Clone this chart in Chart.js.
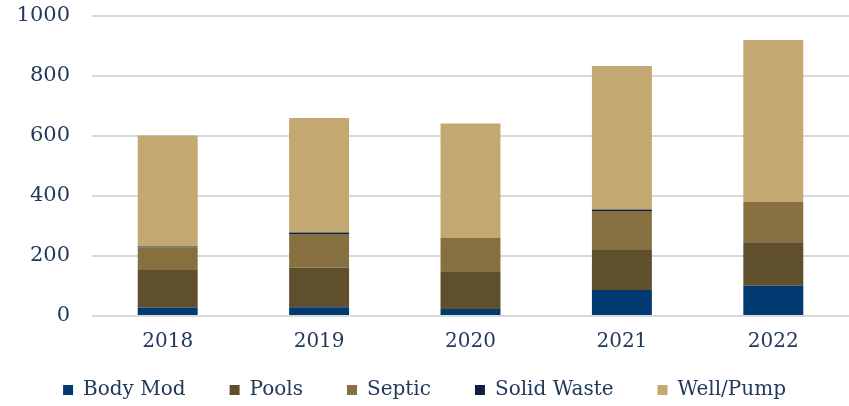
<!DOCTYPE html>
<html>
<head>
<meta charset="utf-8">
<script src="https://cdn.jsdelivr.net/npm/chart.js@4.4.0/dist/chart.umd.min.js"></script>
<style>
  html, body { margin: 0; padding: 0; background: #fff; }
  #chart { display: block; }
</style>
</head>
<body>
<canvas id="chart" width="849" height="406"></canvas>
<script>
// categories and series values
const years = ['2018', '2019', '2020', '2021', '2022'];
const bodyMod = [28, 29, 23, 87, 101];
const pools = [125, 132, 126, 133, 145];
const septic = [75, 112, 111, 130, 134];
const solidWaste = [4, 5, 0, 5, 0];
const wellPump = [370, 382, 382, 478, 540];
const yTicks = [0, 200, 400, 600, 800, 1000];

const textColor = '#22395c';
const serif = "'DejaVu Serif', 'Liberation Serif', serif";

function series(label, data, color) {
  return {
    label: label,
    data: data,
    backgroundColor: color,
    borderWidth: 0,
    categoryPercentage: 1,
    barPercentage: 0.396
  };
}

// legend padding also adds vertical room; keep the legend box short
const legendHeight = {
  id: 'legendHeight',
  beforeLayout(chart) {
    const lg = chart.legend;
    if (lg && !lg._short) {
      const fit = lg.fit.bind(lg);
      lg.fit = function () { fit(); this.height = 70; };
      lg._short = true;
    }
  }
};

new Chart(document.getElementById('chart'), {
  type: 'bar',
  data: {
    labels: years,
    datasets: [
      series('Body Mod', bodyMod, '#003a70'),
      series('Pools', pools, '#5f4f2d'),
      series('Septic', septic, '#86703f'),
      series('Solid Waste', solidWaste, '#0c2340'),
      series('Well/Pump', wellPump, '#c3a872')
    ]
  },
  plugins: [legendHeight],
  options: {
    responsive: false,
    devicePixelRatio: 1,
    animation: false,
    layout: { padding: { top: 16, right: 0, left: 0, bottom: 0 } },
    plugins: {
      tooltip: { enabled: false },
      legend: {
        position: 'bottom',
        labels: {
          color: textColor,
          font: { family: serif, size: 20 },
          boxWidth: 10,
          boxHeight: 10,
          padding: 44
        }
      }
    },
    scales: {
      x: {
        stacked: true,
        grid: { display: false, drawTicks: false },
        border: { display: false },
        ticks: { color: textColor, font: { family: serif, size: 20 }, padding: 14 },
        afterFit: (scale) => {
          scale.height = 20;
          // labels sit below the short axis box, don't clip them
          scale._computeLabelArea = () => undefined;
        }
      },
      y: {
        stacked: true,
        min: 0,
        max: 1000,
        afterBuildTicks: (scale) => { scale.ticks = yTicks.map(v => ({ value: v })); },
        grid: { color: '#d9d9d9', lineWidth: 2, drawTicks: false },
        border: { display: false },
        ticks: {
          color: textColor,
          font: { family: serif, size: 21 },
          padding: 22,
          callback: (v) => String(v)
        },
        afterFit: (scale) => {
          scale.width = 92;
          scale.paddingTop = 0;
          scale.paddingBottom = 0;
        }
      }
    }
  }
});
</script>
</body>
</html>
